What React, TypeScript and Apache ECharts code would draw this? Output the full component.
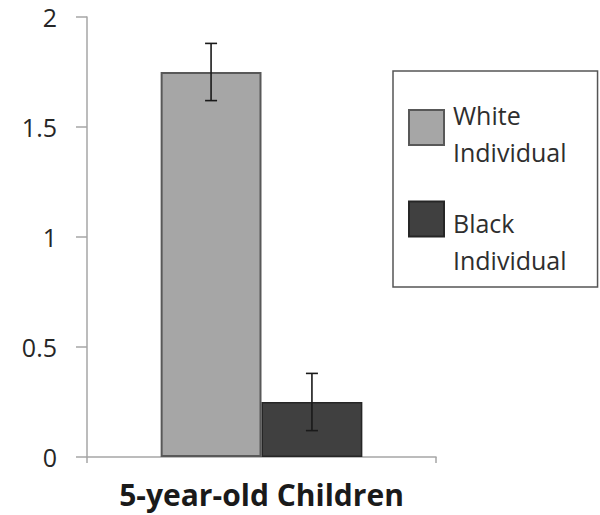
import React, { useEffect, useRef } from "react";
import * as echarts from "echarts";

const categories = ["5-year-old Children"];
const seriesNames = ["White Individual", "Black Individual"];
const whiteValues = [1.75];
const blackValues = [0.25];
const whiteErr = [0.13];
const blackErr = [0.13];
const yTicks = { min: 0, max: 2, interval: 0.5 };

const BAR_FRAC = 0.289;

function errorSeries(name: string, values: number[], errs: number[], sign: number) {
  return {
    name: name + " error",
    type: "custom",
    z: 10,
    silent: true,
    encode: { x: 0, y: [1, 2] },
    data: values.map((v, i) => [i, v - errs[i], v + errs[i]]),
    renderItem: (params: any, api: any) => {
      const band = api.size([1, 0])[0];
      const off = (sign * band * BAR_FRAC) / 2;
      const lo = api.coord([api.value(0), api.value(1)]);
      const hi = api.coord([api.value(0), api.value(2)]);
      const x = lo[0] + off;
      const cap = 6;
      const style = { stroke: "#1a1a1a", lineWidth: 1.6 };
      return {
        type: "group",
        children: [
          { type: "line", shape: { x1: x, y1: lo[1], x2: x, y2: hi[1] }, style },
          { type: "line", shape: { x1: x - cap, y1: lo[1], x2: x + cap, y2: lo[1] }, style },
          { type: "line", shape: { x1: x - cap, y1: hi[1], x2: x + cap, y2: hi[1] }, style },
        ],
      };
    },
  };
}

export default function App() {
  const ref = useRef<HTMLDivElement>(null);
  useEffect(() => {
    if (!ref.current) return;
    const chart = echarts.init(ref.current, undefined, { renderer: "svg" });
    const font = "'Open Sans', sans-serif";
    chart.setOption({
      animation: false,
      backgroundColor: "#ffffff",
      grid: { left: 87, right: 164, top: 17, bottom: 58 },
      legend: {
        data: seriesNames,
        orient: "vertical",
        left: 393,
        top: 71,
        padding: [14, 31, 15, 15],
        itemGap: -4,
        itemWidth: 35,
        itemHeight: 35,
        icon: "rect",
        borderColor: "#555555",
        borderWidth: 1.5,
        selectedMode: false,
        formatter: (name: string) => {
          const [a, b] = name.split(" ");
          const sp = name === seriesNames[0] ? "s1" : "s2";
          return `{${sp}| }\n{t|${a}}\n{t|${b}}`;
        },
        textStyle: {
          fontFamily: font,
          fontSize: 25,
          color: "#333333",
          rich: {
            t: {
              fontFamily: font,
              fontSize: 25,
              color: "#2e2e2e",
              lineHeight: 37,
              padding: [0, 0, 0, 4],
            },
            s1: { fontSize: 4, lineHeight: 11, height: 11 },
            s2: { fontSize: 4, lineHeight: 44, height: 44 },
          },
        },
      },
      xAxis: {
        type: "category",
        data: categories,
        axisLine: { lineStyle: { color: "#a6a6a6", width: 1.5 } },
        axisTick: { show: true, length: 6, lineStyle: { color: "#a6a6a6", width: 1.5 } },
        axisLabel: {
          margin: 22,
          fontFamily: font,
          fontSize: 30,
          fontWeight: "bold",
          color: "#1a1a1a",
        },
      },
      yAxis: {
        type: "value",
        min: yTicks.min,
        max: yTicks.max,
        interval: yTicks.interval,
        splitLine: { show: false },
        axisLine: { show: true, lineStyle: { color: "#a6a6a6", width: 1.5 } },
        axisTick: { show: true, length: 11, lineStyle: { color: "#a6a6a6", width: 1.5 } },
        axisLabel: { margin: 30, fontFamily: font, fontSize: 25, color: "#262626" },
      },
      series: [
        {
          name: seriesNames[0],
          type: "bar",
          data: whiteValues,
          barWidth: BAR_FRAC * 100 + "%",
          barGap: "0%",
          itemStyle: { color: "#a6a6a6", borderColor: "#585858", borderWidth: 2 },
        },
        {
          name: seriesNames[1],
          type: "bar",
          data: blackValues,
          barWidth: BAR_FRAC * 100 + "%",
          barGap: "0%",
          itemStyle: { color: "#404040", borderColor: "#262626", borderWidth: 1.5 },
        },
        errorSeries(seriesNames[0], whiteValues, whiteErr, -1),
        errorSeries(seriesNames[1], blackValues, blackErr, 1),
      ],
    });
    return () => chart.dispose();
  }, []);
  return (
    <div
      ref={ref}
      style={{ position: "fixed", left: 0, top: 0, width: 600, height: 515, background: "#fff" }}
    />
  );
}
